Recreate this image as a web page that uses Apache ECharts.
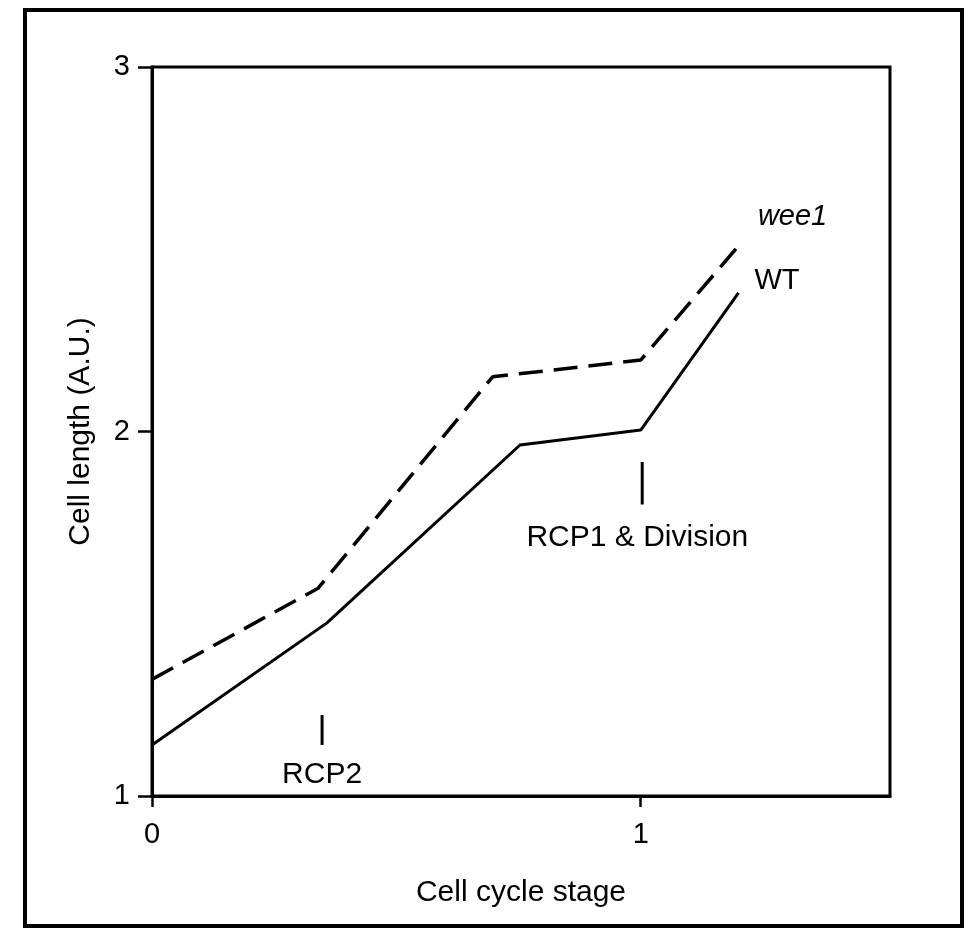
<!DOCTYPE html>
<html>
<head>
<meta charset="utf-8">
<script src="https://cdn.jsdelivr.net/npm/echarts@6/dist/echarts.min.js"></script>
<style>
  html, body { margin: 0; padding: 0; background: #fff; }
  #chart { width: 978px; height: 946px; }
</style>
</head>
<body>
<div id="chart"></div>
<script>
var wtStage = [0, 0.358, 0.753, 1.0, 1.2]
var wtLength = [1.14, 1.475, 1.963, 2.004, 2.38]
var weeStage = [0, 0.34, 0.697, 1.0, 1.207]
var weeLength = [1.32, 1.57, 2.15, 2.196, 2.52]

// restriction points: x, tick bottom, tick top, label y
var rcpNames = ['RCP2', 'RCP1 & Division']
var rcpStage = [0.348, 1.003]
var rcpTickLow = [1.14, 1.80]
var rcpTickHigh = [1.222, 1.916]
var rcpLabelY = [1.058, 1.708]

var yTicks = [1, 2, 3]
var xTicks = [0, 1]

var font = 'Liberation Sans, Arial, Helvetica, sans-serif'

function pairs(xs, ys) {
  return xs.map(function (x, i) { return [x, ys[i]] })
}

var chart = echarts.init(document.getElementById('chart'))

var series = [
  {
    name: 'WT',
    type: 'line',
    data: pairs(wtStage, wtLength),
    symbol: 'none',
    lineStyle: { color: '#000', width: 3 },
    endLabel: {
      show: true,
      formatter: 'WT',
      color: '#000',
      fontFamily: font,
      fontSize: 29,
      offset: [8, -12]
    }
  },
  {
    name: 'wee1',
    type: 'line',
    data: pairs(weeStage, weeLength),
    symbol: 'none',
    lineStyle: { color: '#000', width: 3.5, type: [24, 11] },
    endLabel: {
      show: true,
      formatter: 'wee1',
      color: '#000',
      fontStyle: 'italic',
      fontFamily: font,
      fontSize: 29,
      offset: [8, -25]
    }
  }
]

// little vertical marks with their captions
rcpNames.forEach(function (name, i) {
  series.push({
    name: name + ' mark',
    type: 'line',
    data: [[rcpStage[i], rcpTickLow[i]], [rcpStage[i], rcpTickHigh[i]]],
    symbol: 'none',
    lineStyle: { color: '#000', width: 3 }
  })
})
series.push({
  name: 'labels',
  type: 'scatter',
  symbolSize: 0,
  itemStyle: { opacity: 1, color: '#000' },
  data: rcpNames.map(function (name, i) {
    return { name: name, value: [rcpStage[i] + (i === 1 ? -0.01 : 0), rcpLabelY[i]] }
  }),
  label: {
    show: true,
    position: 'inside',
    formatter: '{b}',
    color: '#000',
    opacity: 1,
    fontFamily: font,
    fontSize: 30
  }
})

chart.setOption({
  animation: false,
  backgroundColor: '#fff',
  grid: {
    left: 152,
    right: 88,
    top: 67,
    bottom: 150,
    show: true,
    borderColor: '#000',
    borderWidth: 3
  },
  graphic: [{
    type: 'rect',
    shape: { x: 25, y: 10, width: 937, height: 916 },
    style: { fill: 'none', stroke: '#000', lineWidth: 4 }
  }],
  xAxis: {
    type: 'value',
    min: 0,
    max: 1.51,
    interval: 1,
    name: 'Cell cycle stage',
    nameLocation: 'middle',
    nameGap: 82,
    nameTextStyle: { color: '#000', fontFamily: font, fontSize: 30 },
    splitLine: { show: false },
    axisLine: { lineStyle: { color: '#000', width: 3 } },
    axisTick: { customValues: xTicks, length: 11, lineStyle: { color: '#000', width: 2.5 } },
    axisLabel: { customValues: xTicks, margin: 24, color: '#000', fontFamily: font, fontSize: 29 }
  },
  yAxis: {
    type: 'value',
    min: 1,
    max: 3,
    interval: 1,
    name: 'Cell length (A.U.)',
    nameLocation: 'middle',
    nameGap: 56,
    nameTextStyle: { color: '#000', fontFamily: font, fontSize: 30 },
    splitLine: { show: false },
    axisLine: { lineStyle: { color: '#000', width: 3 } },
    axisTick: { customValues: yTicks, length: 14, lineStyle: { color: '#000', width: 2.5 } },
    axisLabel: { customValues: yTicks, margin: 22, color: '#000', fontFamily: font, fontSize: 29 }
  },
  series: series
})
</script>
</body>
</html>
